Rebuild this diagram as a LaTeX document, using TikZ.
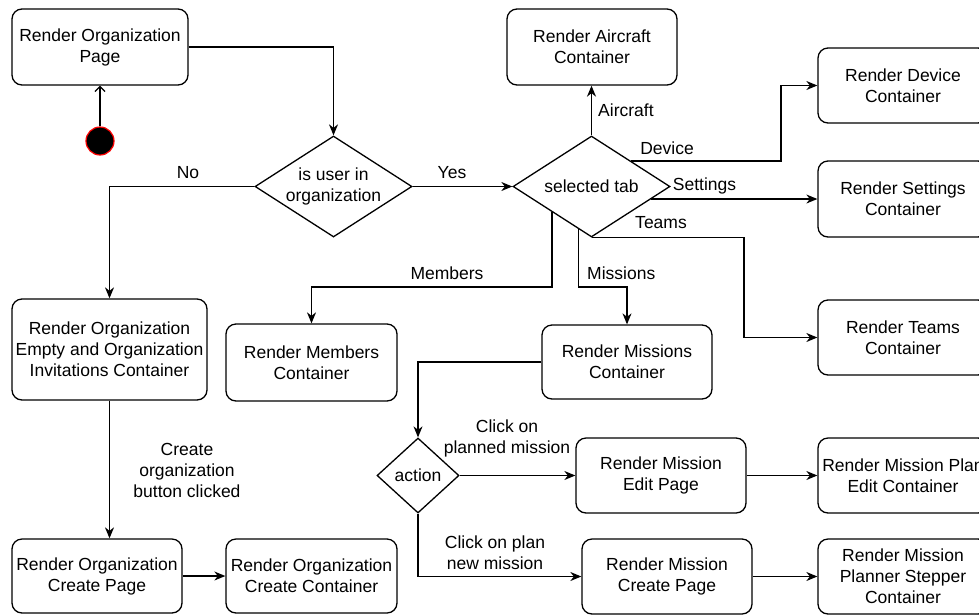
\documentclass[tikz,border=0pt]{standalone}
\usepackage{fontspec}
\setmainfont{Liberation Sans}
\usetikzlibrary{shapes.geometric,arrows.meta,calc}
\begin{document}
\begin{tikzpicture}[x=1pt,y=-1pt,
  font=\fontsize{17.5}{21}\selectfont,
  box/.style={draw, rounded corners=10pt, line width=1.3pt, align=center,
    inner sep=0pt, minimum width=170pt, minimum height=75pt},
  decision/.style={draw, diamond, line width=1.3pt, align=center, inner sep=0pt},
  flow/.style={line width=1.3pt, -{Stealth[length=11pt,width=9pt,inset=3.5pt]}},
  lbl/.style={align=center, inner sep=0pt},
]
\clip (0,0) rectangle (979,614);

% states
\node[box, minimum width=176pt, minimum height=76pt] (orgpage) at (100,47) {Render Organization\\Page};
\node[circle, draw=red, fill=black, line width=1.2pt, minimum size=28pt, inner sep=0pt] (start) at (100,141) {};
\node[decision, aspect=1.55, minimum width=157pt, minimum height=101pt] (isuser) at (333.5,186.5) {is user in\\organization};
\node[decision, aspect=1.55, minimum width=157pt, minimum height=101pt] (seltab) at (591.5,186.5) {selected tab};
\node[box, minimum height=76pt] (aircraft) at (592,47) {Render Aircraft\\Container};
\node[box] (device) at (903,85.5) {Render Device\\Container};
\node[box, minimum height=76pt] (settings) at (903,199) {Render Settings\\Container};
\node[box] (teams) at (903,337.5) {Render Teams\\Container};
\node[box, minimum width=171pt, minimum height=77pt] (members) at (311.5,362.5) {Render Members\\Container};
\node[box, minimum height=74pt] (missions) at (627,362) {Render Missions\\Container};
\node[box, minimum width=195pt, minimum height=101pt] (empty) at (109.5,349.5) {Render Organization\\Empty and Organization\\Invitations Container};
\node[box, minimum height=74pt] (orgcreate) at (97,576) {Render Organization\\Create Page};
\node[box, minimum width=171pt, minimum height=74pt] (orgcont) at (311.5,576) {Render Organization\\Create Container};
\node[decision, minimum width=82pt, minimum height=75pt] (action) at (418,475.5) {action};
\node[box] (editpage) at (661,475.5) {Render Mission\\Edit Page};
\node[box] (planedit) at (903,475.5) {Render Mission Plan\\Edit Container};
\node[box] (mcreate) at (667,576.5) {Render Mission\\Create Page};
\node[box] (stepper) at (903,576.5) {Render Mission\\Planner Stepper\\Container};

% transitions
\draw[line width=1.3pt, -{Straight Barb[length=5pt,width=10pt]}] (start.north) -- (orgpage.south);
\draw[flow] (orgpage.east) -| (isuser.north);
\draw[flow] (isuser.east) -- (seltab.west);
\draw[flow] (isuser.west) -| (empty.north);
\draw[flow] (empty.south) -- (empty.south |- orgcreate.north);
\draw[flow] (orgcreate.east) -- (orgcont.west);
\draw[line width=2.8pt] ($(orgcreate.east)+(19,0)$) -- ++(7,0);

\draw[flow] (seltab.north) -- (seltab.north |- aircraft.south);
\draw[flow] (seltab.north east) -- ++(150,0) |- (device.west);
\coordinate (setout) at ($(seltab.east)!0.25!(seltab.south)$);
\draw[flow] (setout |- settings.west) -- (settings.west);
\draw[flow] (seltab.south) -- ++(152.5,0) |- (teams.west);
\draw[flow] (seltab.south west) -- (seltab.south west |- 0,287) -| (members.north);
\coordinate (misout) at ($(seltab.west)!0.84!(seltab.south)$);
\draw[flow] (misout) -- (misout |- 0,287) -| (missions.north);

\draw[flow] (missions.west) -| (action.north);
\draw[flow] (action.east) -- (editpage.west);
\draw[flow] (action.south) |- (mcreate.west);
\draw[flow] (editpage.east) -- (planedit.west);
\draw[flow] (mcreate.east) -- (stepper.west);

% labels
\node[lbl] (tno) at (188,173) {No};
\node[lbl] (tyes) at (452,173) {Yes};
\node[lbl, anchor=west] (taircraft) at (598,110) {Aircraft};
\node[lbl] (tdevice) at (667,148) {Device};
\node[lbl] (tsettings) at (704.5,186) {Settings};
\node[lbl] (tteams) at (661,223) {Teams};
\node[lbl] (tmembers) at (447,273) {Members};
\node[lbl, anchor=west] (tmissions) at (587,273) {Missions};
\node[lbl] (tcreate) at (187,470) {Create\\organization\\button clicked};
\node[lbl] (tplanned) at (507,438.5) {Click on\\planned mission};
\node[lbl] (tplan) at (495,552.5) {Click on plan\\new mission};
\end{tikzpicture}
\end{document}
